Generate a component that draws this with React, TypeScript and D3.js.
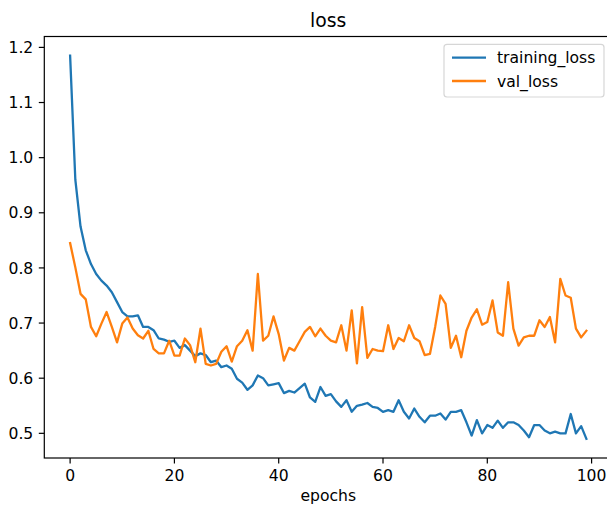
import * as d3 from "d3";

const epochs = d3.range(100);

const trainingLoss = [
  1.185, 0.96, 0.875, 0.832, 0.807, 0.789, 0.777, 0.768, 0.756, 0.738,
  0.72, 0.712, 0.712, 0.714, 0.693, 0.693, 0.687, 0.672, 0.67, 0.666,
  0.668, 0.655, 0.66, 0.65, 0.64, 0.645, 0.642, 0.629, 0.632, 0.62,
  0.623, 0.617, 0.599, 0.592, 0.579, 0.587, 0.605, 0.6, 0.587, 0.589,
  0.591, 0.573, 0.577, 0.574, 0.582, 0.59, 0.565, 0.557, 0.584, 0.568,
  0.571, 0.558, 0.548, 0.56, 0.539, 0.55, 0.552, 0.555, 0.548, 0.546,
  0.539, 0.542, 0.539, 0.56, 0.539, 0.527, 0.545, 0.53, 0.52, 0.532,
  0.532, 0.536, 0.525, 0.539, 0.539, 0.542, 0.52, 0.496, 0.524, 0.5,
  0.515, 0.51, 0.523, 0.51, 0.52, 0.52, 0.515, 0.505, 0.493, 0.515,
  0.515, 0.505, 0.5, 0.503, 0.5, 0.5, 0.535, 0.5, 0.513, 0.49,
];

const valLoss = [
  0.845, 0.801, 0.753, 0.743, 0.693, 0.676, 0.699, 0.72, 0.693, 0.665,
  0.699, 0.71, 0.69, 0.678, 0.672, 0.686, 0.653, 0.645, 0.645, 0.668,
  0.641, 0.641, 0.672, 0.66, 0.629, 0.69, 0.626, 0.623, 0.626, 0.648,
  0.658, 0.63, 0.658, 0.668, 0.687, 0.65, 0.789, 0.668, 0.677, 0.712,
  0.68, 0.632, 0.655, 0.65, 0.667, 0.684, 0.693, 0.676, 0.69, 0.677,
  0.668, 0.665, 0.696, 0.65, 0.723, 0.627, 0.729, 0.637, 0.653, 0.65,
  0.649, 0.696, 0.653, 0.673, 0.667, 0.696, 0.673, 0.667, 0.642, 0.644,
  0.693, 0.75, 0.735, 0.655, 0.677, 0.638, 0.686, 0.71, 0.725, 0.697,
  0.702, 0.741, 0.683, 0.677, 0.774, 0.69, 0.659, 0.674, 0.677, 0.677,
  0.705, 0.693, 0.711, 0.665, 0.78, 0.75, 0.746, 0.69, 0.674, 0.686,
];

const xTicks = [0, 20, 40, 60, 80, 100];
const yTicks = [0.5, 0.6, 0.7, 0.8, 0.9, 1.0, 1.1, 1.2];

const series = [
  { name: "training_loss", color: "#1f77b4", values: trainingLoss },
  { name: "val_loss", color: "#ff7f0e", values: valLoss },
];

const W = 607;
const H = 508;
const plot = { left: 44.3, right: 612.2, top: 36.5, bottom: 458 };
const font = "'DejaVu Sans', sans-serif";
const fs = 15.6;

export default function App() {
  // matplotlib-style 5% margins around the data
  const allVals = [...trainingLoss, ...valLoss];
  const [yMin, yMax] = d3.extent(allVals) as [number, number];
  const yPad = (yMax - yMin) * 0.05;
  const xPad = (epochs.length - 1) * 0.05;

  const x = d3.scaleLinear()
    .domain([-xPad, epochs.length - 1 + xPad])
    .range([plot.left, plot.right]);
  const y = d3.scaleLinear()
    .domain([yMin - yPad, yMax + yPad])
    .range([plot.bottom, plot.top]);

  const line = d3.line<number>()
    .x((_, i) => x(epochs[i]))
    .y((d) => y(d));

  const tickLen = 5.5;
  const tickPad = 5.5;
  const cx = (plot.left + plot.right) / 2;

  // legend box
  const lg = { x: 444, y: 44.3, w: 160, h: 52.7 };
  const rowY = [57.7, 81];

  return (
    <svg
      width={W}
      height={H}
      style={{ position: "absolute", left: 0, top: 0, background: "#fff" }}
      fontFamily={font}
    >
      <rect x={0} y={0} width={W} height={H} fill="#fff" />

      <text x={cx} y={27} textAnchor="middle" fontSize={18.8} fill="#000">
        loss
      </text>

      {series.map((s) => (
        <path
          key={s.name}
          d={line(s.values) ?? ""}
          fill="none"
          stroke={s.color}
          strokeWidth={2.3}
          strokeLinejoin="round"
          strokeLinecap="square"
        />
      ))}

      {/* spines */}
      <rect
        x={plot.left}
        y={plot.top}
        width={plot.right - plot.left}
        height={plot.bottom - plot.top}
        fill="none"
        stroke="#000"
        strokeWidth={1.2}
      />

      {/* x axis */}
      {xTicks.map((t) => (
        <g key={"x" + t}>
          <line x1={x(t)} x2={x(t)} y1={plot.bottom} y2={plot.bottom + tickLen} stroke="#000" strokeWidth={1.2} />
          <text
            x={x(t)}
            y={plot.bottom + tickLen + tickPad + 12}
            textAnchor="middle"
            fontSize={fs}
            fill="#000"
          >
            {t}
          </text>
        </g>
      ))}
      <text x={cx} y={501} textAnchor="middle" fontSize={fs} fill="#000">
        epochs
      </text>

      {/* y axis */}
      {yTicks.map((t) => (
        <g key={"y" + t}>
          <line x1={plot.left - tickLen} x2={plot.left} y1={y(t)} y2={y(t)} stroke="#000" strokeWidth={1.2} />
          <text
            x={plot.left - tickLen - tickPad}
            y={y(t)}
            dy="0.36em"
            textAnchor="end"
            fontSize={fs}
            fill="#000"
          >
            {t.toFixed(1)}
          </text>
        </g>
      ))}

      {/* legend */}
      <rect
        x={lg.x}
        y={lg.y}
        width={lg.w}
        height={lg.h}
        rx={3}
        fill="#fff"
        fillOpacity={0.8}
        stroke="#cccccc"
        strokeOpacity={0.8}
        strokeWidth={1.2}
      />
      {series.map((s, i) => (
        <g key={"lg" + s.name}>
          <line x1={452} x2={486} y1={rowY[i]} y2={rowY[i]} stroke={s.color} strokeWidth={2.3} />
          <text x={497} y={rowY[i]} dy="0.36em" fontSize={fs} fill="#000">
            {s.name}
          </text>
        </g>
      ))}
    </svg>
  );
}
